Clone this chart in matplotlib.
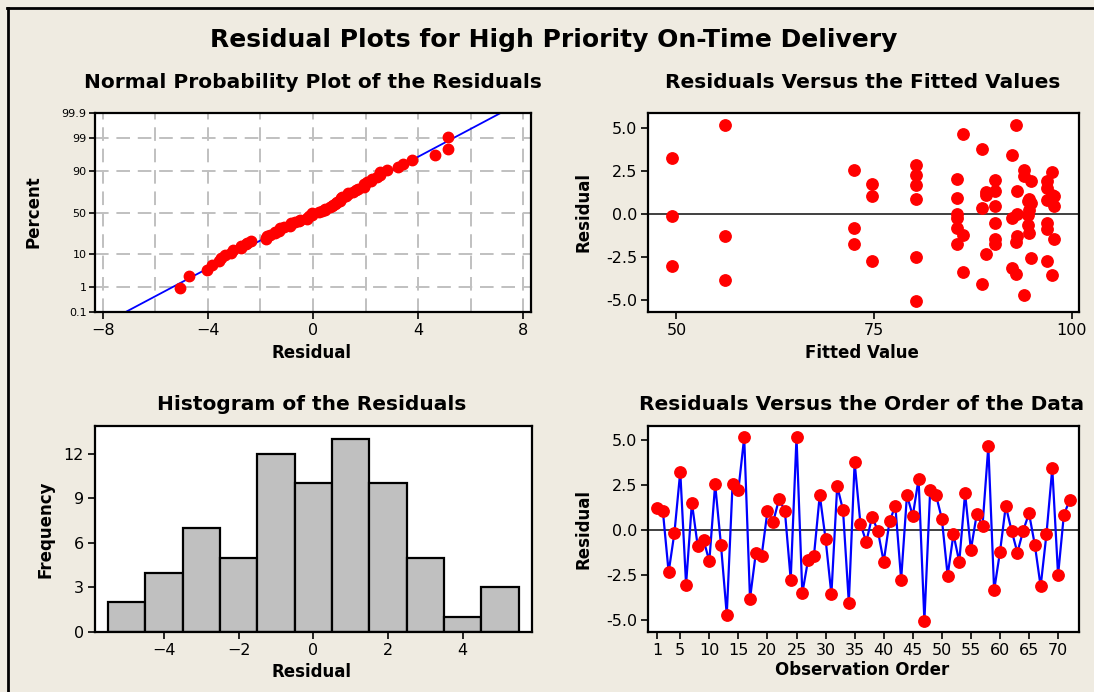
import numpy as np
import matplotlib
matplotlib.use('Agg')
import matplotlib.pyplot as plt
from statistics import NormalDist

# residuals in observation order (24 runs of 3 replicates)
resid = np.array([
    1.24, 1.07, -2.35, -0.15, 3.24, -3.04, 1.51, -0.89, -0.55,
    -1.74, 2.54, -0.82, -4.72, 2.56, 2.22, 5.15, -3.83, -1.28,
    -1.44, 1.04, 0.46, 1.72, 1.05, -2.76, 5.15, -3.52, -1.65,
    -1.44, 1.94, -0.51, -3.58, 2.44, 1.10, -4.05, 3.76, 0.33,
    -0.67, 0.72, -0.05, -1.78, 0.47, 1.33, -2.76, 1.93, 0.78,
    2.83, -5.06, 2.24, 1.93, 0.63, -2.54, -0.24, -1.78, 2.04,
    -1.11, 0.86, 0.23, 4.65, -3.36, -1.24, 1.33, -0.04, -1.26,
    -0.04, 0.92, -0.83, -3.14, -0.24, 3.42, -2.51, 0.85, 1.65])

# fitted value for each run
fitted_run = [89.1, 49.4, 96.8, 72.5, 93.9, 56.1, 97.7, 74.7,
              92.9, 90.25, 97.45, 88.6, 94.5, 90.25, 96.8, 80.25,
              94.8, 85.5, 94.6, 86.2, 93.0, 85.5, 92.4, 80.25]
fitted = np.repeat(fitted_run, 3)
order = np.arange(1, len(resid) + 1)

prob_ticks = [0.1, 1, 10, 50, 90, 99, 99.9]
prob_labels = ['0.1', '1', '10', '50', '90', '99', '99.9']
hist_bins = np.arange(-5.5, 6.0, 1.0)

W, H = 1094, 692
BG = '#efebe1'
plt.rcParams['font.family'] = 'DejaVu Sans'
fig = plt.figure(figsize=(W / 100, H / 100), dpi=100, facecolor=BG)


def rect(l, t, r, b):
    return [l / W, 1 - b / H, (r - l) / W, (b - t) / H]


def ftext(x, y, s, **kw):
    fig.text(x / W, 1 - y / H, s, ha='center', va='center', **kw)


def style(ax):
    for sp in ax.spines.values():
        sp.set_linewidth(1.6)
        sp.set_color('black')
    ax.tick_params(direction='out', length=5, width=1.2, labelsize=11.5, pad=3)


nd = NormalDist()

# normal probability plot
ax1 = fig.add_axes(rect(95, 113, 531, 312))
n = len(resid)
srt = np.sort(resid)
z = np.array([nd.inv_cdf((i - 0.3) / (n + 0.4)) for i in range(1, n + 1)])
mu, sd = resid.mean(), resid.std(ddof=1)
zz = np.array([-3.3, 3.3])
for g in np.arange(-8, 9, 2):
    ax1.axvline(g, color='#c0c0c0', lw=1.4, ls=(0, (7, 4)), zorder=0)
for p in prob_ticks[1:-1]:
    ax1.axhline(nd.inv_cdf(p / 100), color='#c0c0c0', lw=1.4, ls=(0, (7, 4)), zorder=0)
ax1.plot(mu + sd * zz, zz, color='blue', lw=1.3, zorder=2)
ax1.plot(srt, z, 'o', color='red', ms=7.5, mec='red', zorder=3)
ax1.set_xlim(-8.3, 8.3)
ax1.set_ylim(nd.inv_cdf(0.001), nd.inv_cdf(0.999))
ax1.set_xticks([-8, -4, 0, 4, 8])
ax1.set_yticks([nd.inv_cdf(p / 100) for p in prob_ticks])
ax1.set_yticklabels(prob_labels)
style(ax1)
ax1.tick_params(axis='y', labelsize=8, length=4, pad=2)

# residuals versus fits
ax2 = fig.add_axes(rect(648, 113, 1079, 312))
ax2.axhline(0, color='#404040', lw=1.4, zorder=1)
ax2.plot(fitted, resid, 'o', color='red', ms=8.2, mec='red', zorder=3)
ax2.set_xlim(46.4, 100.9)
ax2.set_ylim(-5.7, 5.85)
ax2.set_xticks([50, 75, 100])
ax2.set_yticks([-5, -2.5, 0, 2.5, 5])
ax2.set_yticklabels(['-5.0', '-2.5', '0.0', '2.5', '5.0'])
style(ax2)

# histogram
ax3 = fig.add_axes(rect(95, 426, 532, 632))
ax3.hist(resid, bins=hist_bins, color='#c0c0c0', edgecolor='black', linewidth=1.6)
ax3.set_xlim(-5.85, 5.86)
ax3.set_ylim(0, 13.85)
ax3.set_xticks([-4, -2, 0, 2, 4])
ax3.set_yticks([0, 3, 6, 9, 12])
style(ax3)

# residuals versus order
ax4 = fig.add_axes(rect(648, 426, 1079, 632))
ax4.axhline(0, color='#404040', lw=1.4, zorder=1)
ax4.plot(order, resid, '-', color='blue', lw=1.6, zorder=2)
ax4.plot(order, resid, 'o', color='red', ms=8.2, mec='red', zorder=3)
ax4.set_xlim(-0.55, 73.6)
ax4.set_ylim(-5.68, 5.78)
ax4.set_xticks([1] + list(range(5, 71, 5)))
ax4.set_yticks([-5, -2.5, 0, 2.5, 5])
ax4.set_yticklabels(['-5.0', '-2.5', '0.0', '2.5', '5.0'])
style(ax4)

# titles and axis labels
ftext(554, 40, 'Residual Plots for High Priority On-Time Delivery', fontsize=18, fontweight='bold')
ftext(313, 83, 'Normal Probability Plot of the Residuals', fontsize=14.5, fontweight='bold')
ftext(863, 83, 'Residuals Versus the Fitted Values', fontsize=14.5, fontweight='bold')
ftext(312, 404, 'Histogram of the Residuals', fontsize=14.5, fontweight='bold')
ftext(862, 404, 'Residuals Versus the Order of the Data', fontsize=14.5, fontweight='bold')

ftext(312, 353, 'Residual', fontsize=12, fontweight='bold')
ftext(862, 353, 'Fitted Value', fontsize=12, fontweight='bold')
ftext(312, 672, 'Residual', fontsize=12, fontweight='bold')
ftext(862, 670, 'Observation Order', fontsize=12, fontweight='bold')
ftext(33, 212, 'Percent', fontsize=12, fontweight='bold', rotation=90)
ftext(584, 212, 'Residual', fontsize=12, fontweight='bold', rotation=90)
ftext(45, 529, 'Frequency', fontsize=12, fontweight='bold', rotation=90)
ftext(584, 529, 'Residual', fontsize=12, fontweight='bold', rotation=90)

# frame line along top and left edges
fig.add_artist(plt.Line2D([7 / W, 1], [1 - 7.5 / H, 1 - 7.5 / H], color='black', lw=2))
fig.add_artist(plt.Line2D([7.5 / W, 7.5 / W], [0, 1 - 7.5 / H], color='black', lw=2))

fig.savefig('out.png', dpi=100, facecolor=BG)
